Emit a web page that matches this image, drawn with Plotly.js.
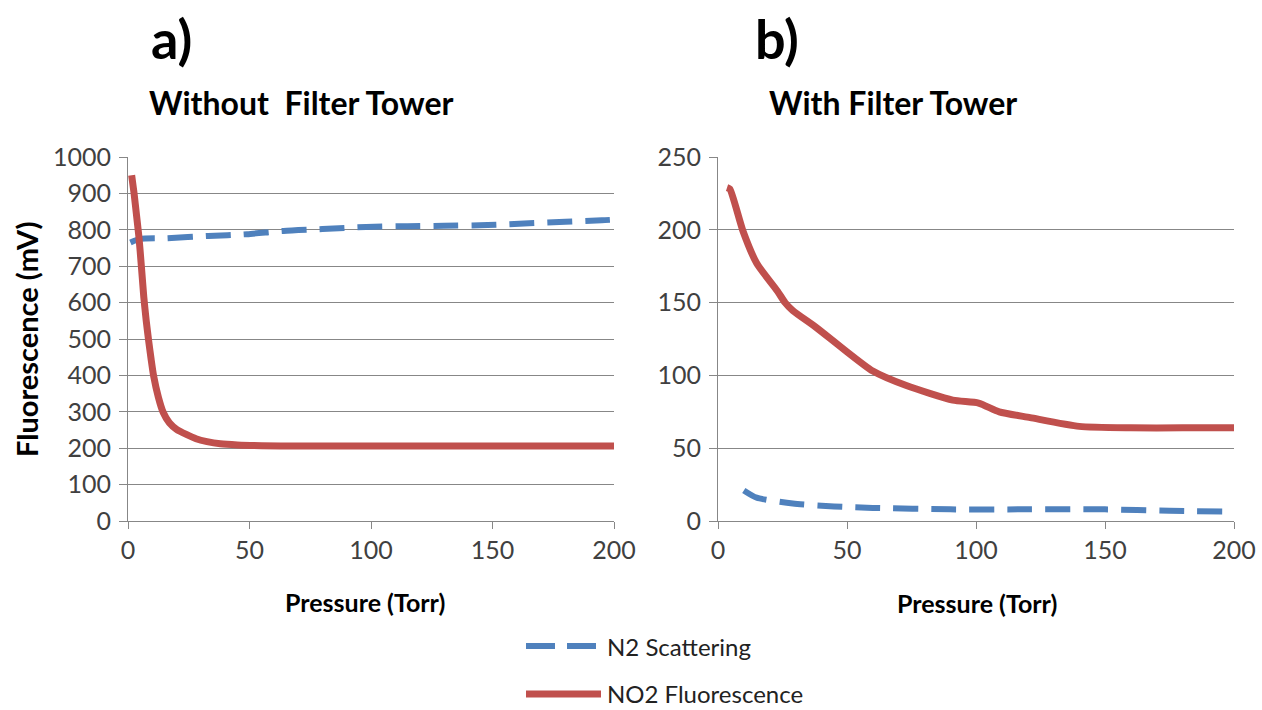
<!DOCTYPE html>
<html>
<head>
<meta charset="utf-8">
<script src="https://cdn.plot.ly/plotly-3.0.1.min.js"></script>
<style>html,body{margin:0;padding:0;background:#fff;}#chart{width:1262px;height:710px;}</style>
</head>
<body>
<div id="chart"></div>
<script>
// ---- Data ----
// Panel a) Without Filter Tower
const aN2Pressure = [1, 5, 16, 33, 49, 64, 80, 98, 115, 130, 148, 165, 180, 195, 200];
const aN2Signal   = [765, 775, 777, 783, 788, 797, 802, 808, 810, 811, 813, 818, 822, 826, 828];
const aNO2Pressure = [1.5, 2.5, 3.5, 4.5, 5.5, 6.5, 7.5, 8.5, 9.5, 10.5, 12.5, 14.5, 17, 20, 24, 28, 32.5, 38, 45, 55, 70, 100, 150, 200];
const aNO2Signal   = [950, 900, 840, 780, 700, 615, 550, 495, 445, 400, 340, 298, 270, 252, 238, 226, 218, 212, 209, 207, 206, 206, 206, 206];
// Panel b) With Filter Tower
const bN2Pressure = [10, 15, 29, 45, 60, 90, 120, 150, 175, 200];
const bN2Signal   = [21, 16, 12, 10, 9, 8, 8, 8, 7, 6.5];
const bNO2Pressure = [3.5, 4.6, 9.7, 15, 23, 26, 29, 38, 48, 60, 73, 91, 101, 109, 121, 140, 160, 180, 200];
const bNO2Signal   = [229, 228, 199, 177, 158, 150, 144.5, 133, 119, 103, 93, 83, 81, 75, 71, 65, 64, 64, 64];

const seriesNames = ['N2 Scattering', 'NO2 Fluorescence'];
const panelLabels = ['a)', 'b)'];
const panelTitles = ['Without  Filter Tower', 'With Filter Tower'];
const xTitle = 'Pressure (Torr)';
const yTitle = 'Fluorescence (mV)';

// ---- Styling ----
const W = 1262, H = 710;
const px = x => x / W;
const py = y => 1 - y / H;
const BLUE = '#4F81BD', RED = '#C0504D';
const GRID = '#878787';
const FONT = 'Lato, "Open Sans", sans-serif';
const dashStyle = '25px,13px';

const traces = [
  {x: aN2Pressure, y: aN2Signal, xaxis: 'x', yaxis: 'y', mode: 'lines', name: seriesNames[0],
   line: {color: BLUE, width: 6, dash: dashStyle, shape: 'spline', smoothing: 0.6}, showlegend: false},
  {x: aNO2Pressure, y: aNO2Signal, xaxis: 'x', yaxis: 'y', mode: 'lines', name: seriesNames[1],
   line: {color: RED, width: 7, shape: 'spline', smoothing: 0.6}, showlegend: false},
  {x: bN2Pressure, y: bN2Signal, xaxis: 'x2', yaxis: 'y2', mode: 'lines', name: seriesNames[0],
   line: {color: BLUE, width: 6, dash: dashStyle, shape: 'spline', smoothing: 0.6}, showlegend: false},
  {x: bNO2Pressure, y: bNO2Signal, xaxis: 'x2', yaxis: 'y2', mode: 'lines', name: seriesNames[1],
   line: {color: RED, width: 7, shape: 'spline', smoothing: 0.6}, showlegend: false}
];

const TICKFONT = {family: FONT, size: 25, color: '#404040'};
function xAxis(domain, anchor) {
  return {domain: domain, anchor: anchor, range: [0, 200], tickvals: [0, 50, 100, 150, 200],
    showgrid: false, zeroline: false, showline: true, linecolor: GRID, linewidth: 1,
    ticks: 'outside', ticklen: 7, tickcolor: GRID, tickwidth: 1,
    tickfont: TICKFONT, fixedrange: true};
}
function yAxis(domain, anchor, range, dtick) {
  return {domain: domain, anchor: anchor, range: range, dtick: dtick, tick0: 0,
    showgrid: true, gridcolor: GRID, gridwidth: 1, zeroline: false,
    showline: true, linecolor: GRID, linewidth: 1,
    ticks: 'outside', ticklen: 8, tickcolor: GRID, tickwidth: 1, ticklabelstandoff: 3,
    tickfont: TICKFONT, fixedrange: true};
}

function note(text, x, y, size, opts) {
  return Object.assign({text: text, x: px(x), y: py(y), xref: 'paper', yref: 'paper',
    xanchor: 'center', yanchor: 'middle', showarrow: false, borderpad: 0,
    font: {family: FONT, size: size, color: '#000'}}, opts || {});
}

const yDom = [py(521), py(157)];
const layout = {
  width: W, height: H,
  margin: {l: 0, r: 0, t: 0, b: 0},
  paper_bgcolor: '#fff', plot_bgcolor: '#fff',
  showlegend: false,
  xaxis: xAxis([px(128), px(614)], 'y'),
  yaxis: yAxis(yDom, 'x', [0, 1000], 100),
  xaxis2: xAxis([px(718), px(1234)], 'y2'),
  yaxis2: yAxis(yDom, 'x2', [0, 250], 50),
  annotations: [
    note('<b>' + panelLabels[0] + '</b>', 171, 38, 54),
    note('<b>' + panelLabels[1] + '</b>', 777, 38, 54),
    note('<b>' + panelTitles[0] + '</b>', 301, 102, 32),
    note('<b>' + panelTitles[1] + '</b>', 893, 102, 32),
    note('<b>' + xTitle + '</b>', 365, 602, 25),
    note('<b>' + xTitle + '</b>', 977, 603, 25),
    note('<b>' + yTitle + '</b>', 26, 340, 29, {textangle: -90}),
    note(seriesNames[0], 606, 646, 24, {xanchor: 'left', font: {family: FONT, size: 24, color: '#222'}}),
    note(seriesNames[1], 606, 693, 24, {xanchor: 'left', font: {family: FONT, size: 24, color: '#222'}})
  ],
  shapes: [
    {type: 'line', xref: 'paper', yref: 'paper', x0: px(526), x1: px(597), y0: py(646), y1: py(646), line: {color: BLUE, width: 6, dash: '29px,12px'}},
    {type: 'line', xref: 'paper', yref: 'paper', x0: px(526), x1: px(601), y0: py(694), y1: py(694), line: {color: RED, width: 7}}
  ]
};

Plotly.newPlot('chart', traces, layout, {displayModeBar: false, staticPlot: true});
</script>
</body>
</html>
